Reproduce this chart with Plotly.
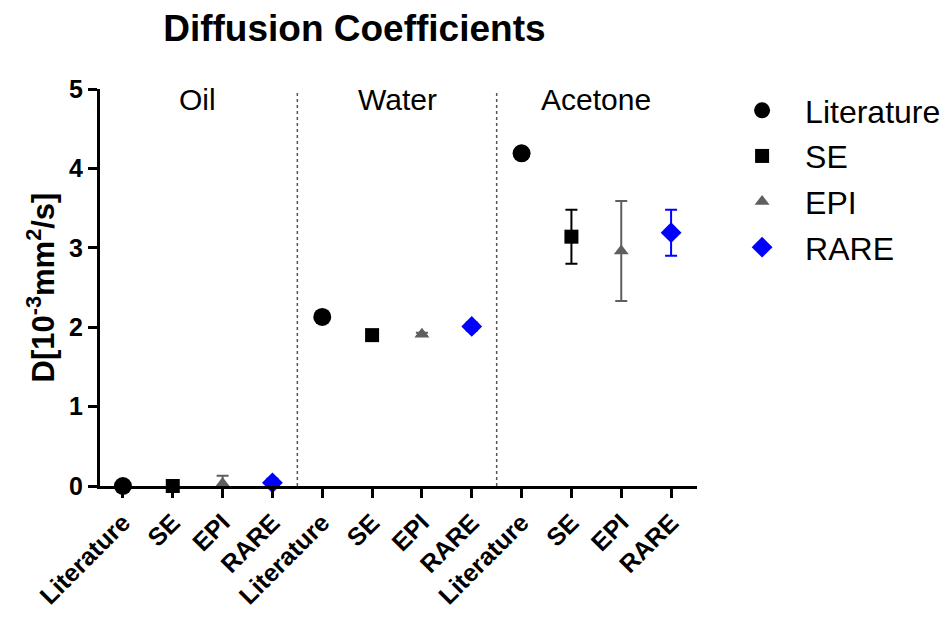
import plotly.graph_objects as go

# Measurement methods and solvent groups
methods = ["Literature", "SE", "EPI", "RARE"]
groups = ["Oil", "Water", "Acetone"]

# Diffusion coefficients [10^-3 mm^2/s] per method, ordered Oil, Water, Acetone
literature = [0.0, 2.13, 4.19]
se = [0.0, 1.90, 3.14]
epi = [0.03, 1.91, 2.96]
rare = [0.04, 2.01, 3.19]

# Standard deviations
literature_err = [0.0, 0.0, 0.0]
se_err = [0.0, 0.0, 0.34]
epi_err = [0.10, 0.02, 0.63]
rare_err = [0.05, 0.05, 0.29]

series = [
    ("Literature", literature, literature_err, "circle", "#000000", 18),
    ("SE", se, se_err, "square", "#000000", 14),
    ("EPI", epi, epi_err, "triangle-up", "#5f5f5f", 13),
    ("RARE", rare, rare_err, "diamond", "#0000ff", 16),
]

FONT = "Liberation Sans, Arial, sans-serif"

fig = go.Figure()
n_m = len(methods)
for i, (name, vals, errs, sym, col, sz) in enumerate(series):
    xs = [g * n_m + i for g in range(len(groups))]
    fig.add_trace(go.Scatter(
        x=xs, y=vals, mode="markers", name=name,
        legendgroup=name,
        marker=dict(symbol=sym, color=col, size=sz, line=dict(width=0)),
        error_y=dict(type="data", array=errs, visible=True,
                     color=col, thickness=2, width=6),
        cliponaxis=False,
    ))

tickvals = list(range(len(groups) * n_m))
ticktext = methods * len(groups)

# Dotted separators between solvent groups
for g in range(1, len(groups)):
    fig.add_shape(type="line", xref="x", yref="y",
                  x0=g * n_m - 0.5, x1=g * n_m - 0.5, y0=0, y1=4.97,
                  line=dict(color="#555555", width=1.5, dash="dot"))

# Group labels
for g, label in enumerate(groups):
    fig.add_annotation(x=g * n_m + 1.5, y=4.87, xref="x", yref="y",
                       text=label, showarrow=False, yanchor="middle",
                       font=dict(family=FONT, size=30, color="#000000"))

fig.update_layout(
    width=945, height=629,
    margin=dict(l=100, r=248, t=89, b=143, autoexpand=False),
    paper_bgcolor="white", plot_bgcolor="white",
    title=dict(text="<b>Diffusion Coefficients</b>", x=0.375, xanchor="center",
               y=0.955, yanchor="middle",
               font=dict(family=FONT, size=37, color="#000000")),
    showlegend=True,
    legend=dict(x=1.037, xanchor="left", y=1.015, yanchor="top",
                font=dict(family=FONT, size=32, color="#000000"),
                tracegroupgap=1, itemwidth=76,
                bgcolor="rgba(0,0,0,0)"),
    xaxis=dict(range=[-0.46, 11.52], tickmode="array", tickvals=tickvals,
               ticktext=[f"<b>{t}</b>" for t in ticktext], tickangle=-45,
               showgrid=False, zeroline=False,
               showline=True, linecolor="#000000", linewidth=3,
               ticks="outside", ticklen=9, tickwidth=3, tickcolor="#000000",
               tickfont=dict(family=FONT, size=25, color="#000000")),
    yaxis=dict(range=[0, 5], tickvals=[0, 1, 2, 3, 4, 5],
               ticktext=[f"<b>{v}</b>" for v in [0, 1, 2, 3, 4, 5]],
               showgrid=False, zeroline=False,
               showline=True, linecolor="#000000", linewidth=3,
               ticks="outside", ticklen=9, tickwidth=3, tickcolor="#000000",
               tickfont=dict(family=FONT, size=25, color="#000000"),
               title=dict(text="<b>D[10<sup>-3</sup>mm<sup>2</sup>/s]</b>",
                          font=dict(family=FONT, size=31, color="#000000"),
                          standoff=6)),
)

fig.write_html("out.html")
